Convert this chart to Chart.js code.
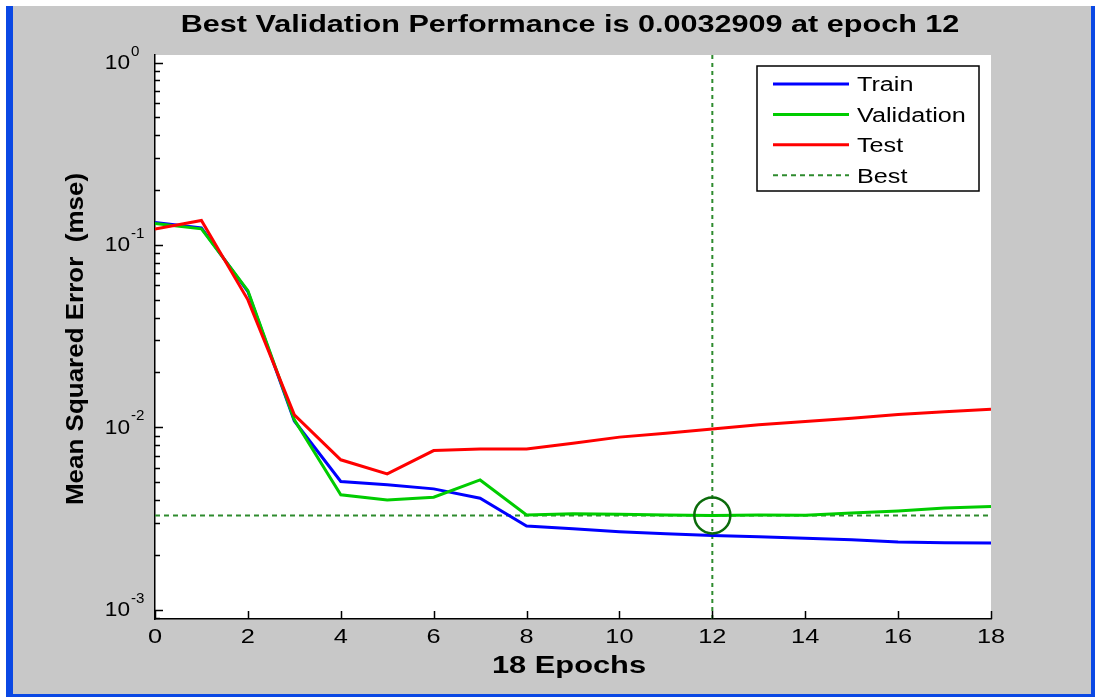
<!DOCTYPE html>
<html>
<head>
<meta charset="utf-8">
<script src="https://cdn.jsdelivr.net/npm/chart.js@4.4.0/dist/chart.umd.min.js"></script>
<style>
  html, body { margin: 0; padding: 0; background: #ffffff; }
  #wrap { width: 1095px; height: 697px; position: relative; }
</style>
</head>
<body>
<div id="wrap"><canvas id="grafico"></canvas></div>
<script>
// Valores (mse por epoca)
const epochs = [0, 1, 2, 3, 4, 5, 6, 7, 8, 9, 10, 11, 12, 13, 14, 15, 16, 17, 18];
const trainPerf = [0.1327, 0.1241, 0.0555, 0.01085, 0.00505, 0.00484, 0.00460, 0.00409, 0.00288, 0.00278,
                   0.00268, 0.00261, 0.00255, 0.00251, 0.00247, 0.00242, 0.00235, 0.00233, 0.00232];
const valPerf = [0.1310, 0.1225, 0.0562, 0.0110, 0.00427, 0.00400, 0.00414, 0.00515, 0.00331, 0.00336,
                 0.00334, 0.00331, 0.0032909, 0.00331, 0.00330, 0.00339, 0.00348, 0.00361, 0.00368];
const testPerf = [0.1221, 0.1361, 0.0500, 0.01172, 0.00664, 0.00556, 0.00746, 0.00762, 0.00762, 0.00819,
                  0.00884, 0.00929, 0.00981, 0.01032, 0.01076, 0.01123, 0.01175, 0.01216, 0.01258];
const bestEpoch = 12;
const bestPerf = 0.0032909;

// Textos y ejes
const titulo = 'Best Validation Performance is 0.0032909 at epoch 12';
const tituloX = '18 Epochs';
const tituloY = 'Mean Squared Error  (mse)';
const xTicks = [0, 2, 4, 6, 8, 10, 12, 14, 16, 18];
const yTickValues = [1, 0.1, 0.01, 0.001];
const yTickExponents = ['0', '-1', '-2', '-3'];
const yMin = 0.00089;
const yMax = 1.1;

const fuente = '"Liberation Sans", Arial, sans-serif';

function puntos(valores) {
    return epochs.map(function (e, i) { return { x: e, y: valores[i] }; });
}

// Texto ensanchado horizontalmente (la figura original esta estirada)
function textoEstirado(ctx, str, x, y, font, sx, align, angulo) {
    ctx.save();
    ctx.translate(x, y);
    if (angulo) ctx.rotate(angulo);
    ctx.scale(sx, 1);
    ctx.font = font;
    ctx.textAlign = align;
    ctx.textBaseline = 'alphabetic';
    ctx.fillStyle = '#000';
    ctx.fillText(str, 0, 0);
    ctx.restore();
}

// Fondo gris tipo ventana de MATLAB
const fondo = {
    id: 'fondo',
    beforeDraw(chart) {
        const ctx = chart.ctx, a = chart.chartArea;
        ctx.save();
        ctx.fillStyle = '#ffffff';
        ctx.fillRect(0, 0, chart.width, chart.height);
        ctx.fillStyle = '#c8c8c8';
        ctx.fillRect(13, 6, 1078, 688);
        ctx.fillStyle = '#0a48e4';
        ctx.fillRect(6, 6, 7, 691);
        ctx.fillRect(1091, 6, 4, 691);
        ctx.fillRect(6, 694, 1089, 3);
        ctx.fillStyle = '#ffffff';
        ctx.fillRect(a.left, a.top, a.right - a.left, a.bottom - a.top);
        ctx.restore();
    }
};

// Marcas hacia dentro, etiquetas y titulos
const marcas = {
    id: 'marcas',
    afterDraw(chart) {
        const ctx = chart.ctx, sx = chart.scales.x, sy = chart.scales.y, a = chart.chartArea;
        ctx.save();
        ctx.strokeStyle = '#000';
        ctx.lineWidth = 1.5;
        ctx.beginPath();
        xTicks.forEach(function (v) {
            const px = Math.round(sx.getPixelForValue(v)) + 0.5;
            ctx.moveTo(px, a.bottom);
            ctx.lineTo(px, a.bottom - 8);
        });
        for (let e = -4; e <= 0; e++) {
            for (let m = 1; m <= 9; m++) {
                const v = m * Math.pow(10, e);
                if (v < yMin || v > yMax) continue;
                const py = Math.round(sy.getPixelForValue(v)) + 0.5;
                ctx.moveTo(a.left, py);
                ctx.lineTo(a.left + (m === 1 ? 8 : 5), py);
            }
        }
        ctx.stroke();
        ctx.restore();

        // etiquetas del eje x
        xTicks.forEach(function (v) {
            textoEstirado(ctx, String(v), sx.getPixelForValue(v), 643, '19.5px ' + fuente, 1.3, 'center');
        });
        // etiquetas 10^n del eje y
        yTickValues.forEach(function (v, i) {
            const py = sy.getPixelForValue(v);
            textoEstirado(ctx, '10', 130, py + 6.5, '21px ' + fuente, 1.08, 'right');
            textoEstirado(ctx, yTickExponents[i], 131, py - 7, '14px ' + fuente, 1.08, 'left');
        });
        // titulos
        textoEstirado(ctx, titulo, 570, 32, 'bold 23px ' + fuente, 1.33, 'center');
        textoEstirado(ctx, tituloX, 569, 673, 'bold 23px ' + fuente, 1.34, 'center');
        textoEstirado(ctx, tituloY, 83, 339, 'bold 23px ' + fuente, 1.13, 'center', -Math.PI / 2);
    }
};

// Leyenda con recuadro
const leyenda = {
    id: 'leyenda',
    afterDraw(chart) {
        const ctx = chart.ctx;
        const bx = 757, by = 66, bw = 222, bh = 125;
        ctx.save();
        ctx.fillStyle = '#ffffff';
        ctx.fillRect(bx, by, bw, bh);
        ctx.strokeStyle = '#000';
        ctx.lineWidth = 1.5;
        ctx.strokeRect(bx, by, bw, bh);
        const items = chart.data.datasets.filter(function (d) { return d.enLeyenda; });
        items.forEach(function (d, i) {
            const yy = by + 18 + i * 30.4;
            ctx.strokeStyle = d.borderColor;
            ctx.lineWidth = d.borderWidth;
            ctx.setLineDash(d.borderDash || []);
            ctx.beginPath();
            ctx.moveTo(773, yy);
            ctx.lineTo(849, yy);
            ctx.stroke();
            ctx.setLineDash([]);
            textoEstirado(ctx, d.label, 857, yy + 7.3, '20px ' + fuente, 1.26, 'left');
        });
        ctx.restore();
    }
};

const ctx = document.getElementById('grafico').getContext('2d');
const grafico = new Chart(ctx, {
    type: 'line',
    data: {
        datasets: [
            {
                label: 'Train',
                data: puntos(trainPerf),
                borderColor: '#0000ff',
                borderWidth: 3,
                pointRadius: 0,
                tension: 0,
                order: 3,
                enLeyenda: true
            },
            {
                label: 'Validation',
                data: puntos(valPerf),
                borderColor: '#00cc00',
                borderWidth: 3,
                pointRadius: 0,
                tension: 0,
                order: 2,
                enLeyenda: true
            },
            {
                label: 'Test',
                data: puntos(testPerf),
                borderColor: '#ff0000',
                borderWidth: 3,
                pointRadius: 0,
                tension: 0,
                order: 1,
                enLeyenda: true
            },
            {
                label: 'Best',
                data: [{ x: 0, y: bestPerf }, { x: 18, y: bestPerf }],
                borderColor: '#2e8b2e',
                borderWidth: 2,
                borderDash: [5, 4],
                pointRadius: 0,
                order: 5,
                enLeyenda: true
            },
            {
                label: 'BestEpoch',
                data: [{ x: bestEpoch, y: yMin }, { x: bestEpoch, y: yMax }],
                borderColor: '#2e8b2e',
                borderWidth: 2,
                borderDash: [4, 4],
                pointRadius: 0,
                order: 5
            },
            {
                label: 'BestPoint',
                data: [{ x: bestEpoch, y: bestPerf }],
                showLine: false,
                pointRadius: 18,
                pointBorderWidth: 2.5,
                pointBorderColor: '#0b6b0b',
                pointBackgroundColor: 'rgba(0,0,0,0)',
                order: 0
            }
        ]
    },
    options: {
        responsive: true,
        maintainAspectRatio: false,
        animation: false,
        layout: { padding: { left: 0, top: 55, right: 104, bottom: 0 } },
        plugins: {
            legend: { display: false },
            tooltip: { enabled: false },
            title: { display: false }
        },
        scales: {
            x: {
                type: 'linear',
                position: 'bottom',
                min: 0,
                max: 18,
                afterFit: function (scale) { scale.height = 78; },
                ticks: { display: false, stepSize: 2 },
                grid: { display: true, drawOnChartArea: false, drawTicks: false },
                border: { display: true, color: '#000', width: 1.5 }
            },
            y: {
                type: 'logarithmic',
                position: 'left',
                min: yMin,
                max: yMax,
                afterFit: function (scale) { scale.width = 155; },
                ticks: { display: false },
                grid: { display: true, drawOnChartArea: false, drawTicks: false },
                border: { display: true, color: '#000', width: 1.5 }
            }
        }
    },
    plugins: [fondo, marcas, leyenda]
});
</script>
</body>
</html>
